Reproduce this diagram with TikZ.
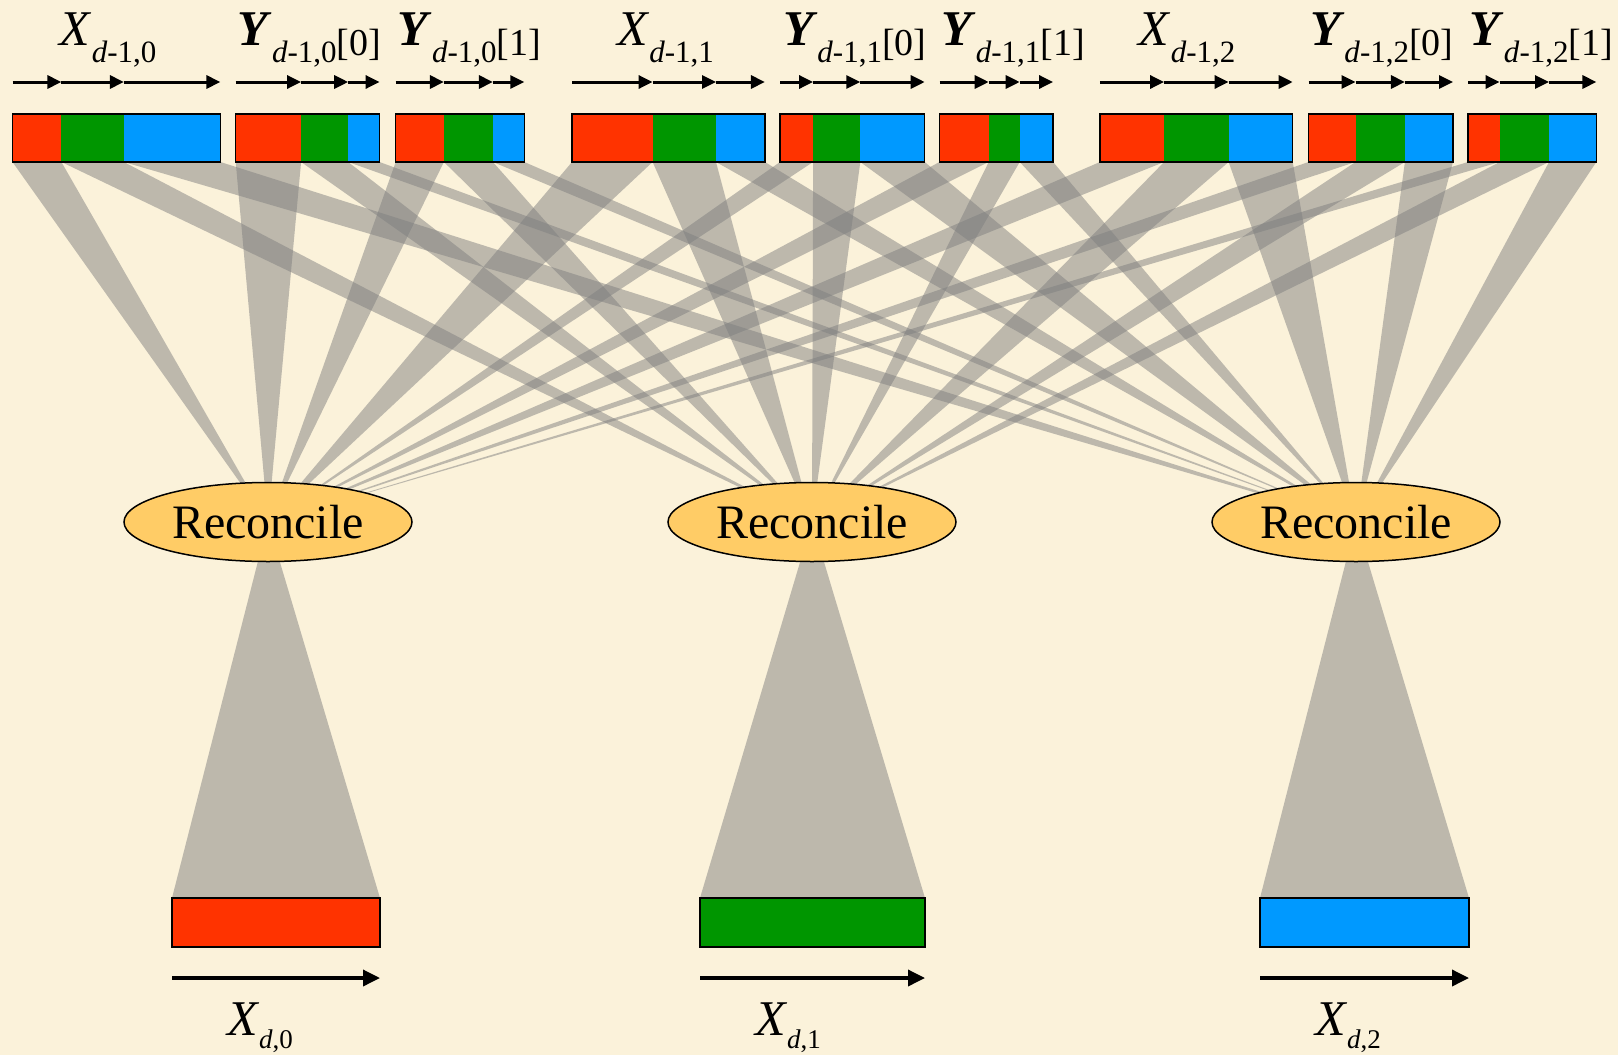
\documentclass[tikz,border=0pt]{standalone}
\usepackage{fontspec}
\setmainfont{Liberation Serif}
\usepackage{tikz}
\usetikzlibrary{arrows.meta,shapes.geometric,backgrounds}

\definecolor{bgcream}{RGB}{251,242,218}
\definecolor{segred}{RGB}{255,51,0}
\definecolor{seggreen}{RGB}{0,150,0}
\definecolor{segblue}{RGB}{0,153,255}
\definecolor{recfill}{RGB}{255,204,102}

\begin{document}
\begin{tikzpicture}[x=1pt,y=-1pt,
  seg/.style={rectangle,inner sep=0pt,outer sep=0pt,minimum height=48pt,anchor=north west},
  outbar/.style={rectangle,draw,line width=1.5pt,inner sep=0pt,outer sep=0pt,minimum height=49pt,anchor=north west},
  barline/.style={line width=1.5pt},
  seqarrow/.style={line width=3pt,-{Triangle[length=14pt,width=13pt]}},
  outarrow/.style={line width=3.5pt,-{Triangle[length=17pt,width=16pt]}},
  fan/.style={fill=black!50,fill opacity=0.5},
  reconcile/.style={ellipse,draw,line width=1.5pt,fill=recfill,minimum width=288pt,minimum height=79pt,inner sep=0pt,font=\fontsize{48}{48}\selectfont},
  xlabel/.style={inner sep=0pt,anchor=base},
  ylabel/.style={inner sep=0pt,anchor=base west},
]
\useasboundingbox (0,0) rectangle (1618,1055);

% Top row: blocks of level d-1
\node[seg,fill=segred,minimum width=48.9pt] (x0r) at (12.5,114) {};
\node[seg,fill=seggreen,minimum width=62.5pt] (x0g) at (x0r.north east) {};
\node[seg,fill=segblue,minimum width=96.5pt] (x0b) at (x0g.north east) {};

\node[seg,fill=segred,minimum width=65.4pt] (y00r) at (235.7,114) {};
\node[seg,fill=seggreen,minimum width=47.1pt] (y00g) at (y00r.north east) {};
\node[seg,fill=segblue,minimum width=31.4pt] (y00b) at (y00g.north east) {};

\node[seg,fill=segred,minimum width=48.2pt] (y01r) at (395.7,114) {};
\node[seg,fill=seggreen,minimum width=49pt] (y01g) at (y01r.north east) {};
\node[seg,fill=segblue,minimum width=31.4pt] (y01b) at (y01g.north east) {};

\node[seg,fill=segred,minimum width=80.6pt] (x1r) at (572,114) {};
\node[seg,fill=seggreen,minimum width=63.4pt] (x1g) at (x1r.north east) {};
\node[seg,fill=segblue,minimum width=48.9pt] (x1b) at (x1g.north east) {};

\node[seg,fill=segred,minimum width=33.1pt] (y10r) at (780,114) {};
\node[seg,fill=seggreen,minimum width=47.2pt] (y10g) at (y10r.north east) {};
\node[seg,fill=segblue,minimum width=64.4pt] (y10b) at (y10g.north east) {};

\node[seg,fill=segred,minimum width=49.2pt] (y11r) at (939.5,114) {};
\node[seg,fill=seggreen,minimum width=31pt] (y11g) at (y11r.north east) {};
\node[seg,fill=segblue,minimum width=33.4pt] (y11b) at (y11g.north east) {};

\node[seg,fill=segred,minimum width=64.2pt] (x2r) at (1099.9,114) {};
\node[seg,fill=seggreen,minimum width=64.5pt] (x2g) at (x2r.north east) {};
\node[seg,fill=segblue,minimum width=64.1pt] (x2b) at (x2g.north east) {};

\node[seg,fill=segred,minimum width=47pt] (y20r) at (1308.5,114) {};
\node[seg,fill=seggreen,minimum width=49.4pt] (y20g) at (y20r.north east) {};
\node[seg,fill=segblue,minimum width=48.1pt] (y20b) at (y20g.north east) {};

\node[seg,fill=segred,minimum width=31.5pt] (y21r) at (1468.1,114) {};
\node[seg,fill=seggreen,minimum width=49.4pt] (y21g) at (y21r.north east) {};
\node[seg,fill=segblue,minimum width=47.4pt] (y21b) at (y21g.north east) {};

% Frames round the blocks
\draw[barline] (x0r.north west) rectangle (x0b.south east);
\draw[barline] (y00r.north west) rectangle (y00b.south east);
\draw[barline] (y01r.north west) rectangle (y01b.south east);
\draw[barline] (x1r.north west) rectangle (x1b.south east);
\draw[barline] (y10r.north west) rectangle (y10b.south east);
\draw[barline] (y11r.north west) rectangle (y11b.south east);
\draw[barline] (x2r.north west) rectangle (x2b.south east);
\draw[barline] (y20r.north west) rectangle (y20b.south east);
\draw[barline] (y21r.north west) rectangle (y21b.south east);

% Arrows over each piece
\draw[seqarrow] ([yshift=32pt]x0r.north west) -- ([yshift=32pt]x0r.north east);
\draw[seqarrow] ([yshift=32pt]x0g.north west) -- ([yshift=32pt]x0g.north east);
\draw[seqarrow] ([yshift=32pt]x0b.north west) -- ([yshift=32pt]x0b.north east);
\draw[seqarrow] ([yshift=32pt]y00r.north west) -- ([yshift=32pt]y00r.north east);
\draw[seqarrow] ([yshift=32pt]y00g.north west) -- ([yshift=32pt]y00g.north east);
\draw[seqarrow] ([yshift=32pt]y00b.north west) -- ([yshift=32pt]y00b.north east);
\draw[seqarrow] ([yshift=32pt]y01r.north west) -- ([yshift=32pt]y01r.north east);
\draw[seqarrow] ([yshift=32pt]y01g.north west) -- ([yshift=32pt]y01g.north east);
\draw[seqarrow] ([yshift=32pt]y01b.north west) -- ([yshift=32pt]y01b.north east);
\draw[seqarrow] ([yshift=32pt]x1r.north west) -- ([yshift=32pt]x1r.north east);
\draw[seqarrow] ([yshift=32pt]x1g.north west) -- ([yshift=32pt]x1g.north east);
\draw[seqarrow] ([yshift=32pt]x1b.north west) -- ([yshift=32pt]x1b.north east);
\draw[seqarrow] ([yshift=32pt]y10r.north west) -- ([yshift=32pt]y10r.north east);
\draw[seqarrow] ([yshift=32pt]y10g.north west) -- ([yshift=32pt]y10g.north east);
\draw[seqarrow] ([yshift=32pt]y10b.north west) -- ([yshift=32pt]y10b.north east);
\draw[seqarrow] ([yshift=32pt]y11r.north west) -- ([yshift=32pt]y11r.north east);
\draw[seqarrow] ([yshift=32pt]y11g.north west) -- ([yshift=32pt]y11g.north east);
\draw[seqarrow] ([yshift=32pt]y11b.north west) -- ([yshift=32pt]y11b.north east);
\draw[seqarrow] ([yshift=32pt]x2r.north west) -- ([yshift=32pt]x2r.north east);
\draw[seqarrow] ([yshift=32pt]x2g.north west) -- ([yshift=32pt]x2g.north east);
\draw[seqarrow] ([yshift=32pt]x2b.north west) -- ([yshift=32pt]x2b.north east);
\draw[seqarrow] ([yshift=32pt]y20r.north west) -- ([yshift=32pt]y20r.north east);
\draw[seqarrow] ([yshift=32pt]y20g.north west) -- ([yshift=32pt]y20g.north east);
\draw[seqarrow] ([yshift=32pt]y20b.north west) -- ([yshift=32pt]y20b.north east);
\draw[seqarrow] ([yshift=32pt]y21r.north west) -- ([yshift=32pt]y21r.north east);
\draw[seqarrow] ([yshift=32pt]y21g.north west) -- ([yshift=32pt]y21g.north east);
\draw[seqarrow] ([yshift=32pt]y21b.north west) -- ([yshift=32pt]y21b.north east);

% Labels of the blocks
\node[xlabel] (lx0) at (108,45) {\fontsize{50}{50}\selectfont\textit{X}\raisebox{-17.5pt}{\fontsize{31}{31}\selectfont\textit{d}-1,0}};
\node[ylabel] (ly00) at (237.5,45) {\fontsize{50}{50}\selectfont\textbf{\textit{Y}}\raisebox{-17.5pt}{\fontsize{31}{31}\selectfont\textit{d}-1,0}\raisebox{-10pt}{\fontsize{38}{38}\selectfont[0]}};
\node[ylabel] (ly01) at (397.5,45) {\fontsize{50}{50}\selectfont\textbf{\textit{Y}}\raisebox{-17.5pt}{\fontsize{31}{31}\selectfont\textit{d}-1,0}\raisebox{-10pt}{\fontsize{38}{38}\selectfont[1]}};
\node[xlabel] (lx1) at (665.5,45) {\fontsize{50}{50}\selectfont\textit{X}\raisebox{-17.5pt}{\fontsize{31}{31}\selectfont\textit{d}-1,1}};
\node[ylabel] (ly10) at (782.8,45) {\fontsize{50}{50}\selectfont\textbf{\textit{Y}}\raisebox{-17.5pt}{\fontsize{31}{31}\selectfont\textit{d}-1,1}\raisebox{-10pt}{\fontsize{38}{38}\selectfont[0]}};
\node[ylabel] (ly11) at (941.2,45) {\fontsize{50}{50}\selectfont\textbf{\textit{Y}}\raisebox{-17.5pt}{\fontsize{31}{31}\selectfont\textit{d}-1,1}\raisebox{-10pt}{\fontsize{38}{38}\selectfont[1]}};
\node[xlabel] (lx2) at (1187,45) {\fontsize{50}{50}\selectfont\textit{X}\raisebox{-17.5pt}{\fontsize{31}{31}\selectfont\textit{d}-1,2}};
\node[ylabel] (ly20) at (1309.9,45) {\fontsize{50}{50}\selectfont\textbf{\textit{Y}}\raisebox{-17.5pt}{\fontsize{31}{31}\selectfont\textit{d}-1,2}\raisebox{-10pt}{\fontsize{38}{38}\selectfont[0]}};
\node[ylabel] (ly21) at (1469.4,45) {\fontsize{50}{50}\selectfont\textbf{\textit{Y}}\raisebox{-17.5pt}{\fontsize{31}{31}\selectfont\textit{d}-1,2}\raisebox{-10pt}{\fontsize{38}{38}\selectfont[1]}};

% Reconcile steps
\node[reconcile] (rec0) at (268,522) {Reconcile};
\node[reconcile] (rec1) at (812,522) {Reconcile};
\node[reconcile] (rec2) at (1356,522) {Reconcile};

% Bottom row: blocks of level d
\node[outbar,fill=segred,minimum width=208pt] (out0) at (172,898) {};
\node[outbar,fill=seggreen,minimum width=225pt] (out1) at (700,898) {};
\node[outbar,fill=segblue,minimum width=209pt] (out2) at (1260,898) {};

\draw[outarrow] ([yshift=-31pt]out0.south west) -- ([yshift=-31pt]out0.south east);
\draw[outarrow] ([yshift=-31pt]out1.south west) -- ([yshift=-31pt]out1.south east);
\draw[outarrow] ([yshift=-31pt]out2.south west) -- ([yshift=-31pt]out2.south east);

\node[xlabel] (lout0) at (260,1035) {\fontsize{50}{50}\selectfont\textit{X}\raisebox{-13pt}{\fontsize{27}{27}\selectfont\textit{d},0}};
\node[xlabel] (lout1) at (788,1035) {\fontsize{50}{50}\selectfont\textit{X}\raisebox{-13pt}{\fontsize{27}{27}\selectfont\textit{d},1}};
\node[xlabel] (lout2) at (1348,1035) {\fontsize{50}{50}\selectfont\textit{X}\raisebox{-13pt}{\fontsize{27}{27}\selectfont\textit{d},2}};

% Gray fans behind everything
\begin{pgfonlayer}{background}
\fill[bgcream] (0,0) rectangle (1618,1055);

% red pieces go to the first reconcile
\fill[fan] (rec0.center) -- (x0r.south west) -- (x0r.south east) -- cycle;
\fill[fan] (rec0.center) -- (y00r.south west) -- (y00r.south east) -- cycle;
\fill[fan] (rec0.center) -- (y01r.south west) -- (y01r.south east) -- cycle;
\fill[fan] (rec0.center) -- (x1r.south west) -- (x1r.south east) -- cycle;
\fill[fan] (rec0.center) -- (y10r.south west) -- (y10r.south east) -- cycle;
\fill[fan] (rec0.center) -- (y11r.south west) -- (y11r.south east) -- cycle;
\fill[fan] (rec0.center) -- (x2r.south west) -- (x2r.south east) -- cycle;
\fill[fan] (rec0.center) -- (y20r.south west) -- (y20r.south east) -- cycle;
\fill[fan] (rec0.center) -- (y21r.south west) -- (y21r.south east) -- cycle;

% green pieces go to the second
\fill[fan] (rec1.center) -- (x0g.south west) -- (x0g.south east) -- cycle;
\fill[fan] (rec1.center) -- (y00g.south west) -- (y00g.south east) -- cycle;
\fill[fan] (rec1.center) -- (y01g.south west) -- (y01g.south east) -- cycle;
\fill[fan] (rec1.center) -- (x1g.south west) -- (x1g.south east) -- cycle;
\fill[fan] (rec1.center) -- (y10g.south west) -- (y10g.south east) -- cycle;
\fill[fan] (rec1.center) -- (y11g.south west) -- (y11g.south east) -- cycle;
\fill[fan] (rec1.center) -- (x2g.south west) -- (x2g.south east) -- cycle;
\fill[fan] (rec1.center) -- (y20g.south west) -- (y20g.south east) -- cycle;
\fill[fan] (rec1.center) -- (y21g.south west) -- (y21g.south east) -- cycle;

% blue pieces go to the third
\fill[fan] (rec2.center) -- (x0b.south west) -- (x0b.south east) -- cycle;
\fill[fan] (rec2.center) -- (y00b.south west) -- (y00b.south east) -- cycle;
\fill[fan] (rec2.center) -- (y01b.south west) -- (y01b.south east) -- cycle;
\fill[fan] (rec2.center) -- (x1b.south west) -- (x1b.south east) -- cycle;
\fill[fan] (rec2.center) -- (y10b.south west) -- (y10b.south east) -- cycle;
\fill[fan] (rec2.center) -- (y11b.south west) -- (y11b.south east) -- cycle;
\fill[fan] (rec2.center) -- (x2b.south west) -- (x2b.south east) -- cycle;
\fill[fan] (rec2.center) -- (y20b.south west) -- (y20b.south east) -- cycle;
\fill[fan] (rec2.center) -- (y21b.south west) -- (y21b.south east) -- cycle;

% reconcile down to the new blocks
\fill[fan] (rec0.center) -- (out0.north west) -- (out0.north east) -- cycle;
\fill[fan] (rec1.center) -- (out1.north west) -- (out1.north east) -- cycle;
\fill[fan] (rec2.center) -- (out2.north west) -- (out2.north east) -- cycle;
\end{pgfonlayer}

\end{tikzpicture}
\end{document}
